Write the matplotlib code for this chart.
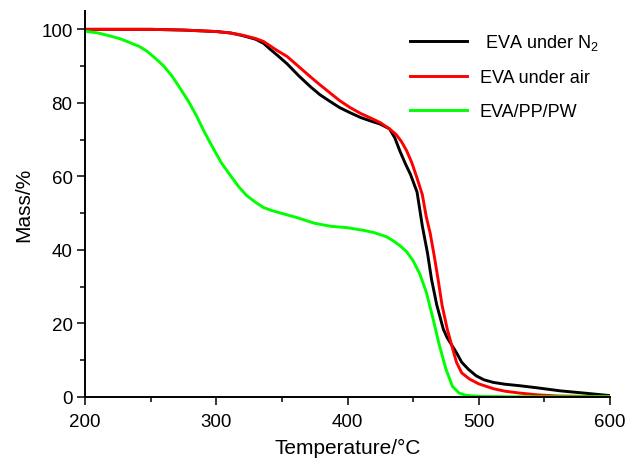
import matplotlib.pyplot as plt
from matplotlib.ticker import MultipleLocator

plt.rcParams['font.family'] = ['Liberation Sans', 'DejaVu Sans']
plt.rcParams['mathtext.fontset'] = 'custom'
plt.rcParams['mathtext.rm'] = 'Liberation Sans'

# TG curves: temperature (°C) vs remaining mass (%)
temp_n2 = [200, 250, 275, 300, 311, 320, 330, 336, 341, 347, 354, 363, 372, 379, 387, 394,
           402, 410, 418, 425, 432, 436, 440, 444, 448, 453, 457, 461, 464, 468,
           473, 476, 479, 483, 487, 492, 498, 504, 511, 520, 531, 545, 562, 580, 600]
mass_n2 = [100, 100, 99.8, 99.4, 99.0, 98.3, 97.3, 96.2, 94.6, 92.8, 90.6, 87.3, 84.3, 82.2, 80.3, 78.7,
           77.3, 76.0, 75.0, 74.2, 72.9, 70.5, 66.8, 63.5, 60.5, 55.7, 46.5, 39.0, 32.0, 25.0,
           18.4, 16.0, 14.3, 12.0, 9.4, 7.5, 5.7, 4.6, 3.9, 3.4, 3.0, 2.4, 1.6, 1.0, 0.3]

temp_air = [200, 250, 275, 300, 311, 320, 330, 336, 341, 347, 354, 363, 372, 379, 387, 394,
            402, 410, 418, 425, 432, 437, 441, 445, 449, 453, 457, 460, 463, 466,
            469, 472, 476, 479, 483, 487, 493, 500, 511, 520, 531, 545, 560, 580, 600]
mass_air = [100, 100, 99.8, 99.4, 99.0, 98.4, 97.5, 96.7, 95.5, 94.1, 92.6, 89.8, 87.0, 84.9, 82.6, 80.6,
            78.7, 77.1, 75.8, 74.6, 72.9, 71.4, 69.5, 67.0, 63.7, 59.5, 55.0, 49.0, 44.5, 38.5,
            32.0, 25.0, 18.4, 14.5, 9.4, 6.5, 4.8, 3.5, 2.2, 1.5, 1.0, 0.5, 0.2, 0.1, 0.1]

temp_blend = [200, 210, 219, 227, 234, 241, 247, 253, 260, 266, 272, 279, 285, 291, 298,
              304, 311, 317, 323, 330, 336, 342, 349, 355, 361, 375,
              387, 400, 412, 420, 430, 435, 440, 445, 450, 455, 460, 465, 470, 475,
              480, 485, 490, 500, 520, 560, 600]
mass_blend = [99.5, 99.0, 98.2, 97.4, 96.4, 95.4, 94.1, 92.3, 90.0, 87.4, 84.2, 80.3, 76.4, 72.0, 67.4,
              63.6, 60.1, 57.2, 54.8, 52.9, 51.5, 50.7, 50.0, 49.4, 48.8, 47.2,
              46.4, 46.0, 45.3, 44.7, 43.5, 42.4, 41.1, 39.5, 37.0, 33.5, 28.5, 21.5, 14.0, 7.5,
              2.8, 1.0, 0.4, 0.1, 0.0, 0.0, 0.0]

labels = [' EVA under N$_2$', 'EVA under air', 'EVA/PP/PW']

fig = plt.figure(figsize=(6.28, 4.60), dpi=100)
ax = fig.add_axes([0.1354, 0.1354, 0.8359, 0.8386])

ax.plot(temp_n2, mass_n2, color='black', lw=2.1, label=labels[0])
ax.plot(temp_air, mass_air, color='#ff0000', lw=2.1, label=labels[1])
ax.plot(temp_blend, mass_blend, color='#00ff00', lw=2.1, label=labels[2])

ax.set_xlim(200, 600)
ax.set_ylim(0, 105)
ax.xaxis.set_major_locator(MultipleLocator(100))
ax.xaxis.set_minor_locator(MultipleLocator(50))
ax.yaxis.set_major_locator(MultipleLocator(20))
ax.yaxis.set_minor_locator(MultipleLocator(10))

for side in ('top', 'right'):
    ax.spines[side].set_visible(False)
for side in ('left', 'bottom'):
    ax.spines[side].set_linewidth(1.4)

ax.tick_params(which='major', length=5.5, width=1.1, labelsize=13.5)
ax.tick_params(axis='x', which='major', pad=6)
ax.tick_params(which='minor', length=3.5, width=1.1)

ax.set_xlabel('Temperature/°C', fontsize=15, labelpad=6)
ax.set_ylabel('Mass/%', fontsize=15, labelpad=6)

ax.legend(loc='upper left', bbox_to_anchor=(0.619, 0.945), frameon=False,
          fontsize=13, handlelength=3.15, handletextpad=0.72, labelspacing=0.95,
          borderpad=0, borderaxespad=0)

fig.savefig('out.png', dpi=100)
